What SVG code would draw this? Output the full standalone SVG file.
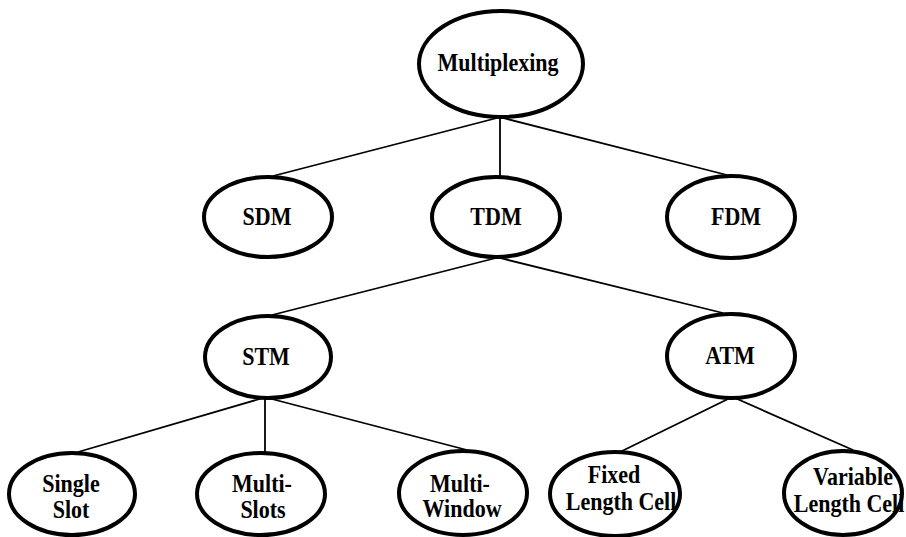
<svg xmlns="http://www.w3.org/2000/svg" width="906" height="537" viewBox="0 0 906 537">
  <style>
    .node ellipse { fill: #ffffff; stroke: #000000; stroke-width: 4; }
    .node text { font-family: "Liberation Serif", "Times New Roman", serif; font-weight: bold; font-size: 22px; fill: #000000; text-anchor: middle; }
    #connectors line { stroke: #000000; stroke-width: 1.8; }
  </style>
  <rect width="906" height="537" fill="#ffffff"/>

  <!-- tree edges -->
  <g id="connectors">
    <line x1="497" y1="118" x2="273" y2="176"/>
    <line x1="500" y1="118" x2="500" y2="177"/>
    <line x1="503" y1="118" x2="727" y2="175"/>
    <line x1="496" y1="258" x2="272" y2="315"/>
    <line x1="500" y1="258" x2="723" y2="313"/>
    <line x1="263" y1="398" x2="78" y2="452"/>
    <line x1="265" y1="398" x2="265" y2="452"/>
    <line x1="268" y1="398" x2="467" y2="450"/>
    <line x1="730" y1="398" x2="620" y2="452"/>
    <line x1="735" y1="398" x2="853" y2="450"/>
  </g>

  <!-- labels are stretched vertically (scale 1 1.15) for tall serif lettering -->

  <!-- root -->
  <g id="multiplexing" class="node">
    <ellipse cx="501" cy="64" rx="82" ry="53"/>
    <text transform="translate(498 71) scale(1 1.15)">Multiplexing</text>
  </g>

  <!-- second level -->
  <g id="sdm" class="node">
    <ellipse cx="268" cy="217" rx="64" ry="40"/>
    <text transform="translate(267 225) scale(1 1.15)">SDM</text>
  </g>
  <g id="tdm" class="node">
    <ellipse cx="496" cy="217" rx="64" ry="40"/>
    <text transform="translate(496 225) scale(1 1.15)">TDM</text>
  </g>
  <g id="fdm" class="node">
    <ellipse cx="731" cy="217" rx="64" ry="41"/>
    <text transform="translate(736 225) scale(1 1.15)">FDM</text>
  </g>

  <!-- third level -->
  <g id="stm" class="node">
    <ellipse cx="268" cy="357" rx="63" ry="41"/>
    <text transform="translate(266 365) scale(1 1.15)">STM</text>
  </g>
  <g id="atm" class="node">
    <ellipse cx="731" cy="356" rx="64" ry="42"/>
    <text transform="translate(730 364) scale(1 1.15)">ATM</text>
  </g>

  <!-- leaves -->
  <g id="single-slot" class="node">
    <ellipse cx="72" cy="494" rx="63" ry="41"/>
    <text transform="translate(71 492) scale(1 1.15)">Single</text>
    <text transform="translate(71 518) scale(1 1.15)">Slot</text>
  </g>
  <g id="multi-slots" class="node">
    <ellipse cx="261" cy="494" rx="64" ry="41"/>
    <text transform="translate(262 492) scale(1 1.15)">Multi-</text>
    <text transform="translate(263 518) scale(1 1.15)">Slots</text>
  </g>
  <g id="multi-window" class="node">
    <ellipse cx="463" cy="493" rx="64" ry="42"/>
    <text transform="translate(460 492) scale(1 1.15)">Multi-</text>
    <text transform="translate(462 517) scale(1 1.15)">Window</text>
  </g>
  <g id="fixed-length-cell" class="node">
    <ellipse cx="615" cy="494" rx="65" ry="42"/>
    <text transform="translate(614 483) scale(1 1.15)">Fixed</text>
    <text transform="translate(621 510) scale(1 1.15)">Length Cell</text>
  </g>
  <g id="variable-length-cell" class="node">
    <ellipse cx="843" cy="493" rx="59" ry="42"/>
    <text transform="translate(853 485) scale(1 1.15)">Variable</text>
    <text transform="translate(849 512) scale(1 1.15)">Length Cell</text>
  </g>
</svg>
